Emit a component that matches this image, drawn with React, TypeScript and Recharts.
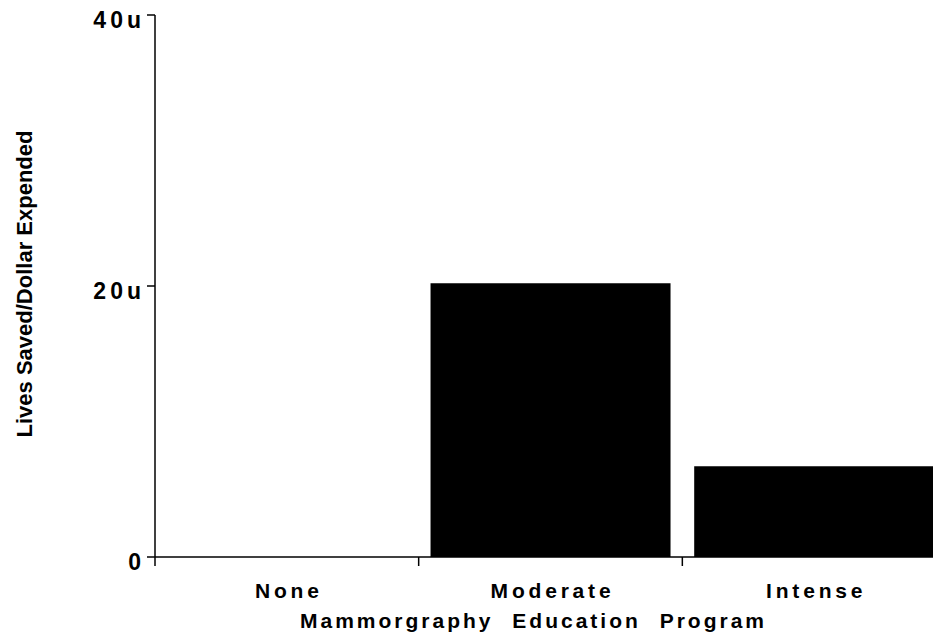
import React from "react";
import { BarChart, Bar, XAxis, YAxis, Label } from "recharts";

const categories = ["None", "Moderate", "Intense"];
const livesSaved = [0, 20.2, 6.7];
const yTicks = [0, 20, 40];
const yTickLabels = ["0", "20u", "40u"];

const data = categories.map((name, i) => ({ name, value: livesSaved[i] }));

const CHART_W = 960;
const CHART_H = 636;
const Y_AXIS_W = 155;
const RIGHT = 14;
const BAND = (CHART_W - Y_AXIS_W - RIGHT) / categories.length;
const FONT = "'Liberation Sans', Arial, Helvetica, sans-serif";

function XTick(props: any) {
  const { x, y, payload } = props;
  const left = x - BAND / 2;
  return (
    <g>
      <line x1={left} y1={y} x2={left} y2={y + 9} stroke="#000" strokeWidth={1.5} />
      <text
        x={x + 2}
        y={y + 41}
        textAnchor="middle"
        fontFamily={FONT}
        fontWeight="bold"
        fontSize={21}
        letterSpacing={3.8}
        fill="#000"
      >
        {payload.value}
      </text>
    </g>
  );
}

function YTick(props: any) {
  const { x, y, payload } = props;
  const idx = yTicks.indexOf(payload.value);
  return (
    <text
      x={x}
      y={y + 5}
      textAnchor="end"
      dominantBaseline="central"
      fontFamily={FONT}
      fontWeight="bold"
      fontSize={23}
      letterSpacing={4}
      fill="#000"
    >
      {yTickLabels[idx]}
    </text>
  );
}

export default function App() {
  return (
    <div
      style={{
        position: "fixed",
        left: 0,
        top: 0,
        width: 933,
        height: 636,
        overflow: "hidden",
        background: "#fff",
      }}
    >
      <BarChart
        width={CHART_W}
        height={CHART_H}
        data={data}
        margin={{ top: 15, right: RIGHT, left: 0, bottom: 0 }}
        barCategoryGap="4.5%"
      >
        <XAxis
          dataKey="name"
          height={79}
          axisLine={{ stroke: "#000", strokeWidth: 1.5 }}
          tickLine={false}
          tickSize={0}
          tickMargin={0}
          tick={<XTick />}
          interval={0}
        >
          <Label
            content={(p: any) => {
              const vb = p.viewBox;
              return (
                <text
                  x={vb.x + vb.width / 2 - 17}
                  y={vb.y + 71}
                  textAnchor="middle"
                  fontFamily={FONT}
                  fontWeight="bold"
                  fontSize={21}
                  letterSpacing={3.0}
                  wordSpacing={10}
                  fill="#000"
                >
                  Mammorgraphy Education Program
                </text>
              );
            }}
          />
        </XAxis>
        <YAxis
          width={Y_AXIS_W}
          domain={[0, 40]}
          ticks={yTicks}
          interval={0}
          axisLine={{ stroke: "#000", strokeWidth: 1.5 }}
          tickLine={{ stroke: "#000", strokeWidth: 1.5 }}
          tickSize={8}
          tickMargin={2}
          tick={<YTick />}
        >
          <Label
            content={(p: any) => {
              const vb = p.viewBox;
              const cx = 24;
              const cy = vb.y + vb.height / 2 - 2;
              return (
                <text
                  x={cx}
                  y={cy}
                  transform={`rotate(-90 ${cx} ${cy})`}
                  textAnchor="middle"
                  dominantBaseline="central"
                  fontFamily={FONT}
                  fontWeight="bold"
                  fontSize={22}
                  fill="#000"
                >
                  Lives Saved/Dollar Expended
                </text>
              );
            }}
          />
        </YAxis>
        <Bar dataKey="value" fill="#000" isAnimationActive={false} />
      </BarChart>
    </div>
  );
}
